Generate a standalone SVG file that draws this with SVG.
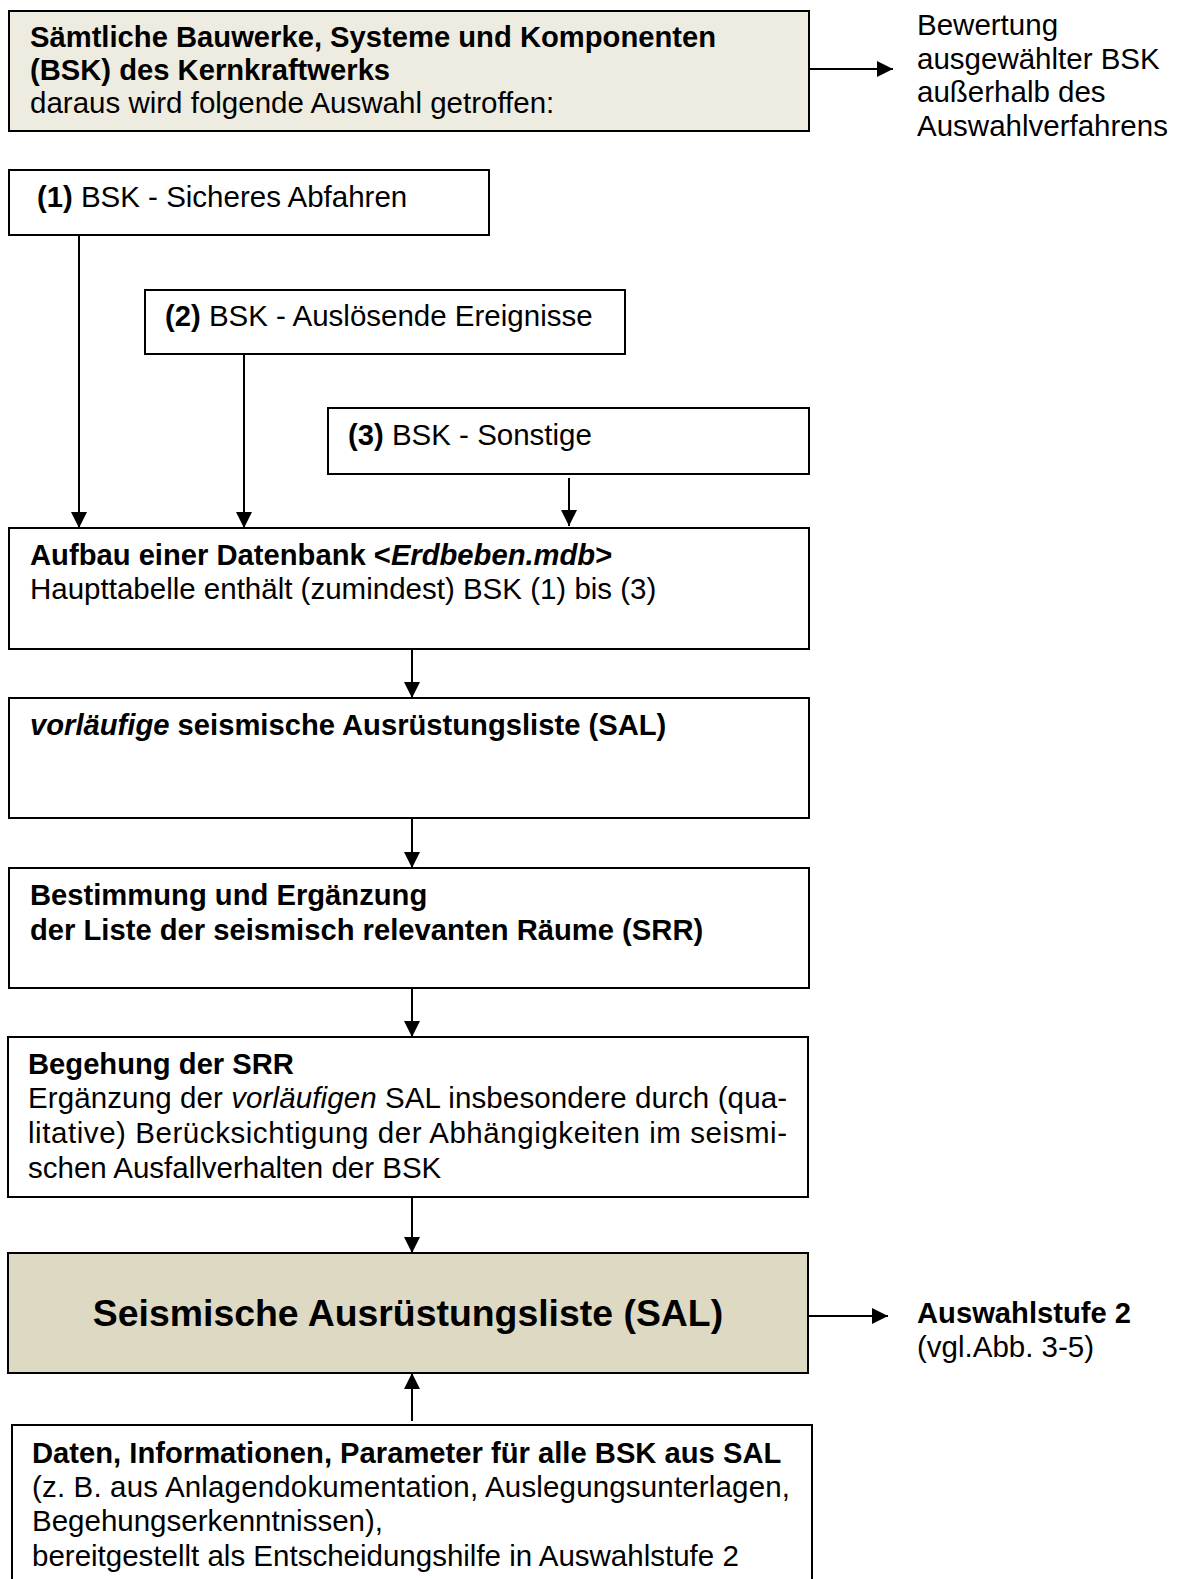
<svg xmlns="http://www.w3.org/2000/svg" width="1180" height="1579" viewBox="0 0 1180 1579">
  <style>
    .box { fill: #ffffff; stroke: #000000; stroke-width: 2; }
    .beige { fill: #EEECE1; }
    .sal { fill: #DDD9C3; }
    text { font-family: "Liberation Sans", Arial, sans-serif; font-size: 29.5px; fill: #000000; }
    .b { font-weight: bold; font-size: 29.2px; }
    .i { font-style: italic; }
    .big { font-size: 37.4px; font-weight: bold; }
    .conn { stroke: #000000; stroke-width: 2; fill: none; }
  </style>
  <defs>
    <marker id="arrow" viewBox="0 0 16 16" refX="16" refY="8" markerWidth="16" markerHeight="16" markerUnits="userSpaceOnUse" orient="auto">
      <path d="M0,0 L16,8 L0,16 Z" fill="#000000"/>
    </marker>
  </defs>

  <!-- all structures, systems and components -->
  <g id="node-all">
    <rect class="box beige" x="9" y="11" width="800" height="120"/>
    <text class="b" x="30" y="47">Sämtliche Bauwerke, Systeme und Komponenten</text>
    <text class="b" x="30" y="80">(BSK) des Kernkraftwerks</text>
    <text x="30" y="113">daraus wird folgende Auswahl getroffen:</text>
  </g>

  <g id="node-outside">
    <text x="917" y="35">Bewertung</text>
    <text x="917" y="69">ausgewählter BSK</text>
    <text x="917" y="102">außerhalb des</text>
    <text x="917" y="136">Auswahlverfahrens</text>
  </g>

  <g id="node-1">
    <rect class="box" x="9" y="170" width="480" height="65"/>
    <text x="37" y="207"><tspan class="b">(1)</tspan> BSK - Sicheres Abfahren</text>
  </g>

  <g id="node-2">
    <rect class="box" x="145" y="290" width="480" height="64"/>
    <text x="165" y="326"><tspan class="b">(2)</tspan> BSK - Auslösende Ereignisse</text>
  </g>

  <g id="node-3">
    <rect class="box" x="328" y="408" width="481" height="66"/>
    <text x="348" y="445"><tspan class="b">(3)</tspan> BSK - Sonstige</text>
  </g>

  <g id="node-db">
    <rect class="box" x="9" y="528" width="800" height="121"/>
    <text class="b" x="30" y="565">Aufbau einer Datenbank &lt;<tspan class="i">Erdbeben.mdb</tspan>&gt;</text>
    <text x="30" y="599">Haupttabelle enthält (zumindest) BSK (1) bis (3)</text>
  </g>

  <g id="node-prelim">
    <rect class="box" x="9" y="698" width="800" height="120"/>
    <text class="b" x="30" y="735"><tspan class="i">vorläufige</tspan> seismische Ausrüstungsliste (SAL)</text>
  </g>

  <g id="node-srr">
    <rect class="box" x="9" y="868" width="800" height="120"/>
    <text class="b" x="30" y="905">Bestimmung und Ergänzung</text>
    <text class="b" x="30" y="940">der Liste der seismisch relevanten Räume (SRR)</text>
  </g>

  <g id="node-walkdown">
    <rect class="box" x="8" y="1037" width="800" height="160"/>
    <text class="b" x="28" y="1074">Begehung der SRR</text>
    <text x="28" y="1108" textLength="759" lengthAdjust="spacing">Ergänzung der <tspan class="i">vorläufigen</tspan> SAL insbesondere durch (qua-</text>
    <text x="28" y="1143" textLength="759" lengthAdjust="spacing">litative) Berücksichtigung der Abhängigkeiten im seismi-</text>
    <text x="28" y="1178">schen Ausfallverhalten der BSK</text>
  </g>

  <g id="node-sal">
    <rect class="box sal" x="8" y="1253" width="800" height="120"/>
    <text class="big" x="408" y="1326" text-anchor="middle">Seismische Ausrüstungsliste (SAL)</text>
  </g>

  <g id="node-stage2">
    <text class="b" x="917" y="1323">Auswahlstufe 2</text>
    <text x="917" y="1357">(vgl.Abb. 3-5)</text>
  </g>

  <g id="node-data">
    <rect class="box" x="12" y="1425" width="800" height="160"/>
    <text class="b" x="32" y="1463">Daten, Informationen, Parameter für alle BSK aus SAL</text>
    <text x="32" y="1497" textLength="758" lengthAdjust="spacing">(z. B. aus Anlagendokumentation, Auslegungsunterlagen,</text>
    <text x="32" y="1531">Begehungserkenntnissen),</text>
    <text x="32" y="1566">bereitgestellt als Entscheidungshilfe in Auswahlstufe 2</text>
  </g>

  <g id="connectors">
    <line class="conn" x1="809" y1="69" x2="893" y2="69" marker-end="url(#arrow)"/>
    <line class="conn" x1="79" y1="235" x2="79" y2="528" marker-end="url(#arrow)"/>
    <line class="conn" x1="244" y1="354" x2="244" y2="528" marker-end="url(#arrow)"/>
    <line class="conn" x1="569" y1="478" x2="569" y2="526" marker-end="url(#arrow)"/>
    <line class="conn" x1="412" y1="649" x2="412" y2="698" marker-end="url(#arrow)"/>
    <line class="conn" x1="412" y1="818" x2="412" y2="868" marker-end="url(#arrow)"/>
    <line class="conn" x1="412" y1="988" x2="412" y2="1037" marker-end="url(#arrow)"/>
    <line class="conn" x1="412" y1="1197" x2="412" y2="1253" marker-end="url(#arrow)"/>
    <line class="conn" x1="808" y1="1316" x2="888" y2="1316" marker-end="url(#arrow)"/>
    <line class="conn" x1="412" y1="1421" x2="412" y2="1373" marker-end="url(#arrow)"/>
  </g>
</svg>
